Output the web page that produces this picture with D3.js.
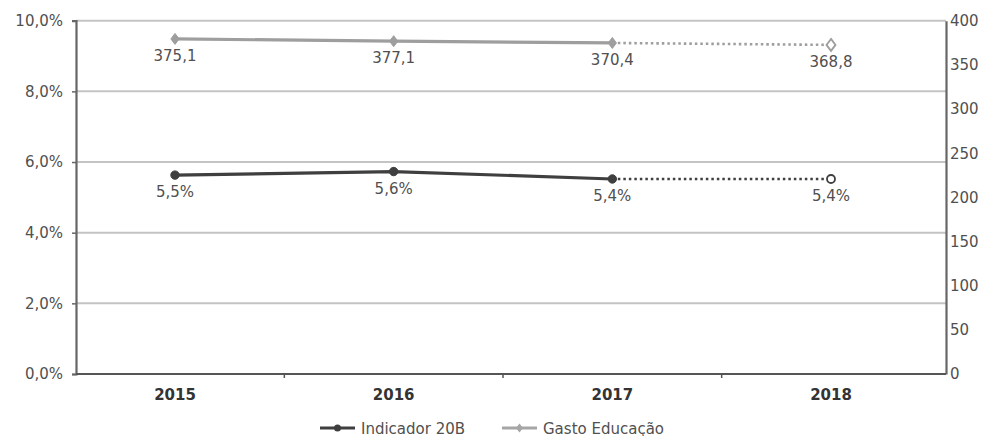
<!DOCTYPE html>
<html><head><meta charset="utf-8">
<script src="https://cdn.jsdelivr.net/npm/d3@7"></script>
<style>body{margin:0;background:#fff}svg{display:block}text{font-family:"DejaVu Sans",Verdana,sans-serif}</style>
</head><body><svg id="c" width="984" height="436"></svg>
<script>
const years = ["2015","2016","2017","2018"];
const indicador = [5.63, 5.73, 5.52, 5.52];
const indicadorLabels = ["5,5%","5,6%","5,4%","5,4%"];
const gasto = [379.4, 376.8, 374.8, 372.6];
const gastoLabels = ["375,1","377,1","370,4","368,8"];
const leftTicks = [0,2,4,6,8,10];
const rightTicks = [0,50,100,150,200,250,300,350,400];
const seriesNames = ["Indicador 20B","Gasto Educação"];

const svg = d3.select("#c");
const L = 76, R = 946, T = 20.7, B = 374;
const x = d3.scalePoint().domain(years).range([175, 831]);
const yL = d3.scaleLinear().domain([0,10]).range([B,T]);
const yR = d3.scaleLinear().domain([0,400]).range([B,T]);
const txt = "#505050";

// gridlines
svg.append("g").selectAll("line").data(leftTicks.filter(d=>d>0)).join("line")
  .attr("x1",L).attr("x2",R).attr("y1",d=>yL(d)).attr("y2",d=>yL(d))
  .attr("stroke","#c4c4c4").attr("stroke-width",2);

// left axis
const gl = svg.append("g").attr("transform",`translate(${L},0)`)
  .call(d3.axisLeft(yL).tickValues(leftTicks).tickSize(4).tickPadding(9)
  .tickFormat(d=>d.toFixed(1).replace(".",",")+"%"));
gl.select(".domain").attr("stroke","#666").attr("stroke-width",2.2);
gl.selectAll(".tick line").attr("stroke","#666").attr("stroke-width",1.5);
gl.selectAll("text").attr("fill",txt).style("font-size","15px");

// right axis
const gr = svg.append("g").attr("transform",`translate(${R},0)`)
  .call(d3.axisRight(yR).tickValues(rightTicks).tickSize(0).tickPadding(4));
gr.select(".domain").attr("stroke","#666").attr("stroke-width",2.2);
gr.selectAll("text").attr("fill",txt).style("font-size","15px");

// bottom axis
const step = x.step();
svg.append("line").attr("x1",L).attr("x2",R).attr("y1",B).attr("y2",B)
  .attr("stroke","#555").attr("stroke-width",2.2);
svg.append("g").selectAll("line").data(years.slice(1)).join("line")
  .attr("x1",d=>x(d)-step/2).attr("x2",d=>x(d)-step/2).attr("y1",B).attr("y2",B+4)
  .attr("stroke","#555").attr("stroke-width",1.5);
svg.append("g").selectAll("text").data(years).join("text")
  .attr("x",d=>x(d)).attr("y",B+26).attr("text-anchor","middle")
  .attr("fill","#333").style("font-size","15px").style("font-weight","bold").text(d=>d);

function drawSeries(vals, labels, scale, color, marker) {
  const pts = vals.map((v,i)=>[x(years[i]), scale(v)]);
  const line = d3.line();
  svg.append("path").attr("d",line(pts.slice(0,3))).attr("fill","none")
    .attr("stroke",color).attr("stroke-width",3.2);
  svg.append("path").attr("d",line(pts.slice(2))).attr("fill","none")
    .attr("stroke",color).attr("stroke-width",2.6).attr("stroke-dasharray","2.5,3");
  pts.forEach((p,i)=>{
    const hollow = i===3;
    let m;
    if (marker==="circle") {
      m = svg.append("circle").attr("cx",p[0]).attr("cy",p[1]).attr("r",hollow?4:4.2);
    } else {
      const s = hollow?6:5.5;
      m = svg.append("path").attr("d",`M${p[0]},${p[1]-s}L${p[0]+s*0.75},${p[1]}L${p[0]},${p[1]+s}L${p[0]-s*0.75},${p[1]}Z`);
    }
    m.attr("fill",hollow?"#fff":color).attr("stroke",color).attr("stroke-width",hollow?1.8:1);
    svg.append("text").attr("x",p[0]).attr("y",p[1]+22).attr("text-anchor","middle")
      .attr("fill",txt).style("font-size","15px").text(labels[i]);
  });
}
drawSeries(gasto, gastoLabels, yR, "#9e9e9e", "diamond");
drawSeries(indicador, indicadorLabels, yL, "#3f3f3f", "circle");

// legend
const leg = [{name:seriesNames[0],color:"#3f3f3f",x0:320,marker:"circle"},
             {name:seriesNames[1],color:"#a6a6a6",x0:502,marker:"diamond"}];
const ly = 428;
leg.forEach(l=>{
  svg.append("line").attr("x1",l.x0).attr("x2",l.x0+35).attr("y1",ly).attr("y2",ly)
    .attr("stroke",l.color).attr("stroke-width",3);
  const cx = l.x0+17.5;
  if (l.marker==="circle") svg.append("circle").attr("cx",cx).attr("cy",ly).attr("r",3.5).attr("fill",l.color);
  else svg.append("path").attr("d",`M${cx},${ly-4.5}L${cx+3.5},${ly}L${cx},${ly+4.5}L${cx-3.5},${ly}Z`).attr("fill",l.color);
  svg.append("text").attr("x",l.x0+41).attr("y",ly+5.5).attr("fill",txt)
    .style("font-size","15px").text(l.name);
});
</script></body></html>
